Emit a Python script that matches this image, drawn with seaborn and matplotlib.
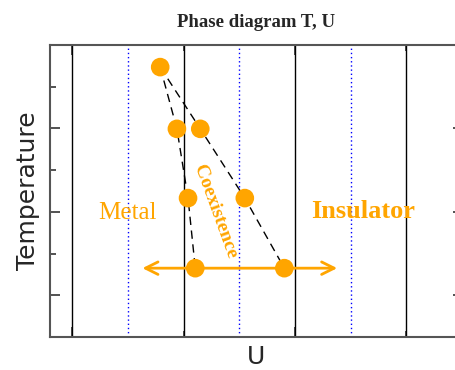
import matplotlib
matplotlib.use("Agg")
import matplotlib.pyplot as plt
import seaborn as sns
import pandas as pd

# Phase boundary data
temp = [6.47, 4.99, 3.33, 1.65]
u_c1 = [1.79, 1.94, 2.04, 2.105]   # metal side of the coexistence region
u_c2 = [1.79, 2.15, 2.55, 2.905]   # insulator side
solid_u = [1, 2, 3, 4]
dotted_u = [1.5, 2.5, 3.5]
arrow_u = [1.63, 3.38]
arrow_t = 1.65

sns.set_style("white")
plt.rcParams['font.family'] = ['DejaVu Sans']
orange = "#FFA500"

fig = plt.figure(figsize=(4.56, 3.70), dpi=100)
# the right spine sits just past the right edge of the picture
ax = fig.add_axes([50 / 456, 33 / 370, 413 / 456, 292 / 370])

for u in solid_u:
    ax.axvline(u, color="black", lw=1.0, zorder=1)
for u in dotted_u:
    ax.axvline(u, color="blue", lw=1.0, ls=(0, (1, 2)), zorder=1)

# dashed phase boundaries
bounds = pd.DataFrame({"U": u_c1 + u_c2, "T": temp + temp,
                       "side": ["c1"] * 4 + ["c2"] * 4})
sns.lineplot(data=bounds, x="U", y="T", units="side", estimator=None, sort=False,
             color="black", lw=1.0, ax=ax, zorder=2, linestyle=(0, (6, 4)))

# horizontal arrow through the lowest temperature
ax.annotate("", xy=(arrow_u[0], arrow_t), xytext=(arrow_u[1], arrow_t),
            arrowprops=dict(arrowstyle="<->,head_length=0.9,head_width=0.45",
                            color=orange, lw=2.0, shrinkA=0, shrinkB=0), zorder=3)

pts = bounds.drop_duplicates(subset=["U", "T"])
sns.scatterplot(data=pts, x="U", y="T", color=orange, s=180, edgecolor="none",
                ax=ax, zorder=4)

serif = ["Liberation Serif", "DejaVu Serif"]
ax.text(1.494, 2.97, "Metal", color=orange, fontsize=18, family=serif,
        ha="center", va="center")
ax.text(3.615, 3.0, "Insulator", color=orange, fontsize=19, family=serif,
        fontweight="bold", ha="center", va="center")
ax.text(2.285, 3.0, "Coexistence", color=orange, fontsize=14, family=serif,
        fontweight="bold", rotation=-70, ha="center", va="center")

ax.set_xlim(0.8, 4.51)
ax.set_ylim(0, 7)
ax.set_xticks([1, 3])
ax.set_xticks([2, 4], minor=True)
ax.set_yticks([1, 3, 5])
ax.set_yticks([2, 4, 6], minor=True)
ax.tick_params(which="both", direction="in", left=True, bottom=True,
               top=True, right=True, labelbottom=False, labelleft=False,
               color="#333333", width=1.2)
ax.tick_params(which="major", length=7.2)
ax.tick_params(which="minor", length=4.3)
for s in ax.spines.values():
    s.set_visible(True)
    s.set_color("#555555")
    s.set_linewidth(1.5)

ax.set_title("Phase diagram T, U", fontsize=13.5, fontweight="bold",
             family=serif, pad=13)
ax.set_xlabel("U", fontsize=18, labelpad=6)
ax.set_ylabel("Temperature", fontsize=18, labelpad=7)

fig.savefig("out.png", dpi=100)
